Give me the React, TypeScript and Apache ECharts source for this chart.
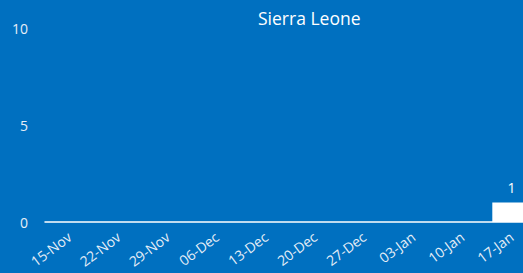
import React, { useEffect, useRef } from "react";
import * as echarts from "echarts";

const categories = ["15-Nov", "22-Nov", "29-Nov", "06-Dec", "13-Dec", "20-Dec", "27-Dec", "03-Jan", "10-Jan", "17-Jan"];
const cases = [0, 0, 0, 0, 0, 0, 0, 0, 0, 1];
const yTicks = [0, 5, 10];
const title = "Sierra Leone";

export default function App() {
  const ref = useRef<HTMLDivElement>(null);
  useEffect(() => {
    document.body.style.margin = "0";
    const chart = echarts.init(ref.current!, null, { renderer: "svg" });
    chart.setOption({
      animation: false,
      backgroundColor: "#0070C0",
      textStyle: { fontFamily: "Open Sans" },
      title: {
        text: title,
        left: 253,
        top: 4,
        textStyle: { color: "#ffffff", fontSize: 17.5, fontWeight: "normal", fontFamily: "Open Sans" },
      },
      grid: { left: 45, right: 0, top: 28, bottom: 51, containLabel: false },
      xAxis: {
        type: "category",
        data: categories,
        axisLine: { show: true, lineStyle: { color: "#ffffff", width: 1.5 } },
        axisTick: { show: false },
        axisLabel: { color: "#e6eef7", fontSize: 14, rotate: 37, margin: 13, interval: 0 },
      },
      yAxis: {
        type: "value",
        min: yTicks[0],
        max: yTicks[yTicks.length - 1],
        interval: 5,
        splitLine: { show: false },
        axisLine: { show: false },
        axisTick: { show: false },
        axisLabel: { color: "#e6eef7", fontSize: 14, margin: 17 },
      },
      series: [
        {
          type: "bar",
          data: cases,
          barWidth: "78%",
          itemStyle: { color: "#ffffff" },
          label: {
            show: true,
            position: "top",
            color: "#ffffff",
            fontSize: 14,
            distance: 8,
            formatter: (p: any) => (p.value > 0 ? String(p.value) : ""),
          },
        },
      ],
    });
    return () => chart.dispose();
  }, []);
  return (
    <div style={{ width: 523, height: 273, overflow: "hidden", position: "relative" }}>
      <div ref={ref} style={{ width: 536, height: 273 }} />
    </div>
  );
}
